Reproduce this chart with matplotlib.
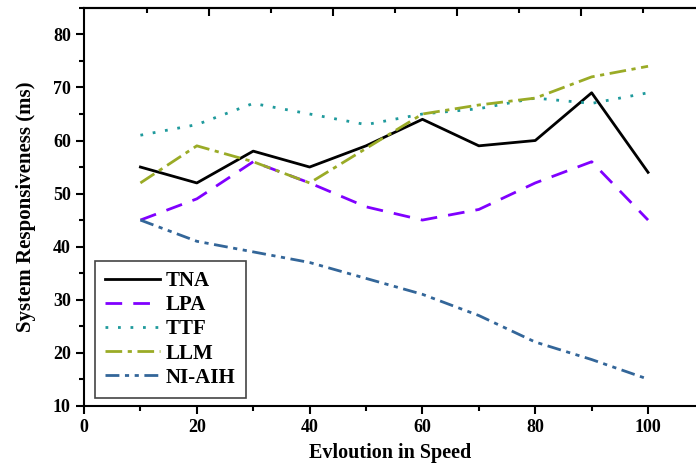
import matplotlib.pyplot as plt
import numpy as np
from matplotlib.ticker import MultipleLocator, FixedLocator

plt.rcParams['font.family'] = ['Liberation Serif', 'DejaVu Serif']
plt.rcParams['font.weight'] = 'bold'

speed = [10, 20, 30, 40, 50, 60, 70, 80, 90, 100]
tna = [55, 52, 58, 55, 59, 64, 59, 60, 69, 54]
lpa = [45, 49, 56, 52, 47.5, 45, 47, 52, 56, 45]
ttf = [61, 63, 67, 65, 63, 65, 66, 68, 67, 69]
llm = [52, 59, 56, 52, 58.5, 65, 66.7, 68, 72, 74]
ni_aih = [45, 41, 39, 37, 34, 31, 27, 22, 18.7, 15]

fig = plt.figure(figsize=(6.96, 4.67), dpi=100)
ax = fig.add_axes([0.1207, 0.1313, 0.8793, 0.8517])

ax.plot(speed, tna, color='black', lw=2, ls='-', label='TNA')
ax.plot(speed, lpa, color='#8000ff', lw=2, ls=(0, (6, 4)), label='LPA')
ax.plot(speed, ttf, color='#1f9a9c', lw=2, ls=(0, (1, 3.5)), label='TTF')
ax.plot(speed, llm, color='#9aab26', lw=2, ls=(0, (6, 2, 1.5, 2)), label='LLM')
ax.plot(speed, ni_aih, color='#336699', lw=2, ls=(0, (5, 2, 1.5, 2, 1.5, 2)), label='NI-AIH')

ax.set_xlim(0, 108.5)
ax.set_ylim(10, 85)
ax.xaxis.set_major_locator(MultipleLocator(20))
ax.xaxis.set_minor_locator(MultipleLocator(10))
ax.yaxis.set_major_locator(MultipleLocator(10))
ax.yaxis.set_minor_locator(MultipleLocator(5))
ax.tick_params(which='major', direction='out', length=6, width=1.5, labelsize=13)
ax.tick_params(which='minor', direction='out', length=3.5, width=1.5)
for lab in ax.get_xticklabels() + ax.get_yticklabels():
    lab.set_fontweight('bold')

ax.spines['right'].set_visible(False)
for s in ['left', 'bottom', 'top']:
    ax.spines[s].set_linewidth(1.5)

# top ticks (inward, no labels)
top = ax.secondary_xaxis('top')
top.xaxis.set_major_locator(FixedLocator([22.16, 44.15, 66.14, 88.13]))
top.xaxis.set_minor_locator(FixedLocator([11.17, 33.16, 55.15, 77.14, 99.13]))
top.tick_params(which='major', direction='in', length=6, width=1.5, labeltop=False)
top.tick_params(which='minor', direction='in', length=3.5, width=1.5)
top.spines['top'].set_linewidth(1.5)

ax.set_xlabel('Evloution in Speed', fontsize=14.5, fontweight='bold', labelpad=5)
ax.set_ylabel('System Responsiveness (ms)', fontsize=15, fontweight='bold', labelpad=12)

leg = ax.legend(loc='lower left', bbox_to_anchor=(0.018, 0.019), borderaxespad=0,
                fontsize=15, handlelength=2.6, fancybox=False, edgecolor='#444444',
                framealpha=1, borderpad=0.5, labelspacing=0.2, handletextpad=0.3)
leg.get_frame().set_linewidth(1.2)
for t in leg.get_texts():
    t.set_fontweight('bold')

fig.savefig('out.png', dpi=100)
